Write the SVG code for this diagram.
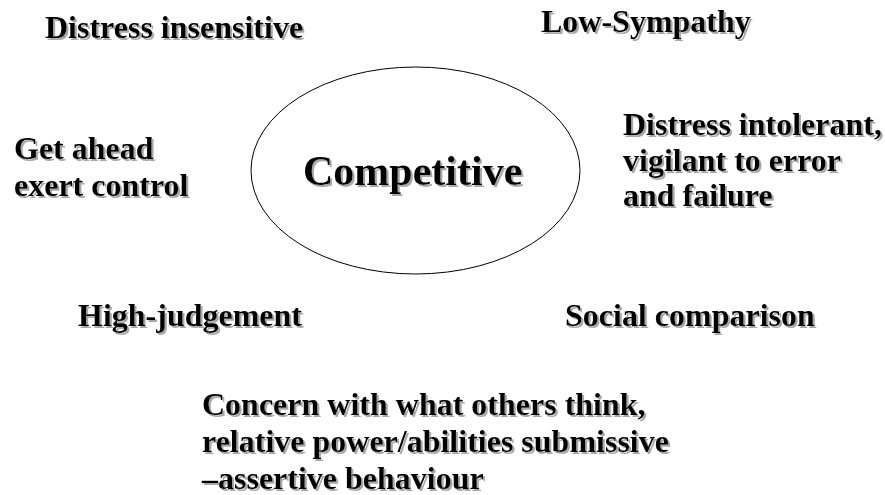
<svg xmlns="http://www.w3.org/2000/svg" width="885" height="495" viewBox="0 0 885 495">
  <defs>
    <filter id="shadow" x="-5%" y="-20%" width="115%" height="150%">
      <feDropShadow dx="2" dy="2" stdDeviation="0.6" flood-color="#a8a8a8" flood-opacity="1"/>
    </filter>
  </defs>
  <style>
    text { font-family: "Liberation Serif", "Times New Roman", serif; font-weight: bold; font-size: 32px; fill: #000; filter: url(#shadow); }
    .big { font-size: 42px; }
    .ring { fill: none; stroke: #000; stroke-width: 1; }
  </style>
  <rect width="885" height="495" fill="#fff"/>

  <g id="center">
    <ellipse class="ring" cx="415.5" cy="170.5" rx="164.5" ry="103.5"/>
    <text class="big" x="303" y="185">Competitive</text>
  </g>

  <g id="distress-insensitive">
    <text x="45" y="38">Distress insensitive</text>
  </g>

  <g id="low-sympathy">
    <text x="541" y="32">Low-Sympathy</text>
  </g>

  <g id="get-ahead">
    <text x="14" y="159">Get ahead</text>
    <text x="14" y="196">exert control</text>
  </g>

  <g id="distress-intolerant">
    <text x="623" y="135">Distress intolerant,</text>
    <text x="623" y="171">vigilant to error</text>
    <text x="623" y="206">and failure</text>
  </g>

  <g id="high-judgement">
    <text x="78" y="326">High-judgement</text>
  </g>

  <g id="social-comparison">
    <text x="565" y="326">Social comparison</text>
  </g>

  <g id="concern">
    <text x="202" y="415">Concern with what others think,</text>
    <text x="202" y="452">relative power/abilities submissive</text>
    <text x="202" y="489">–assertive behaviour</text>
  </g>

  <g id="connectors"/>
</svg>
